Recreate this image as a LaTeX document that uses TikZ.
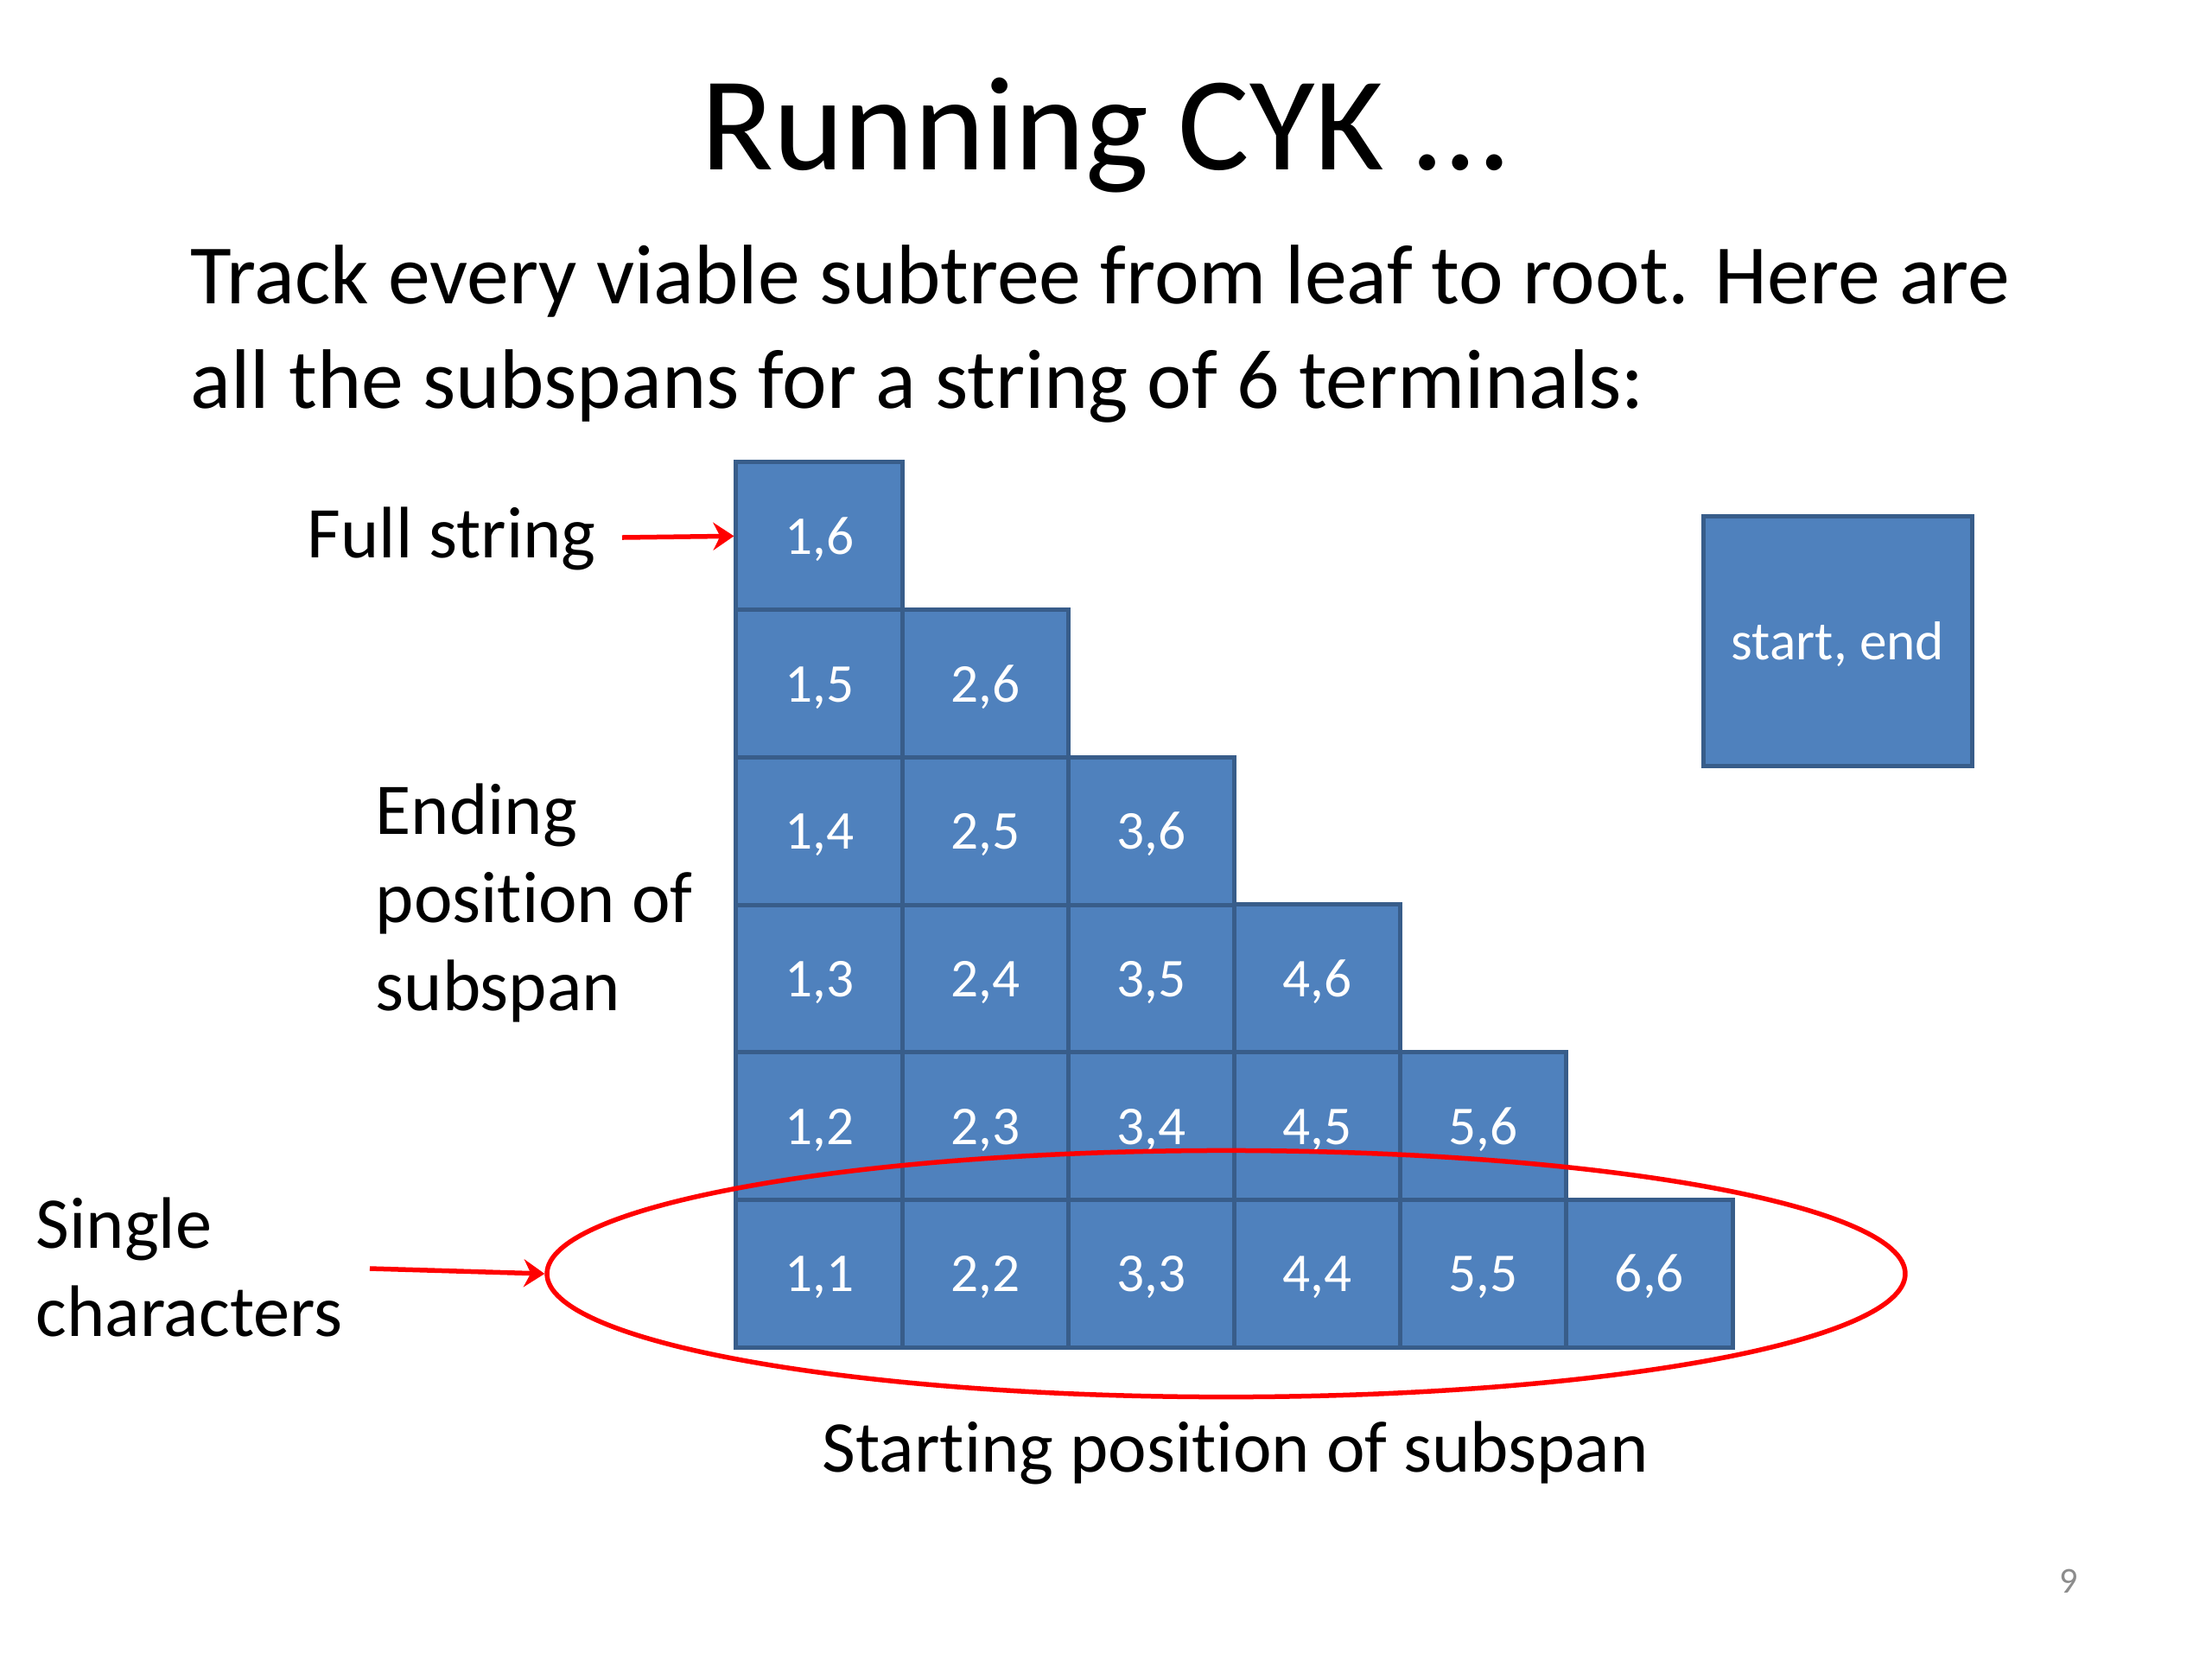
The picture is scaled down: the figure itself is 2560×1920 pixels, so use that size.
\documentclass[tikz,border=0pt]{standalone}
\usepackage{fontspec}
\setmainfont{Carlito}[Ligatures=NoCommon]
\usetikzlibrary{shapes.geometric,arrows.meta}
\definecolor{cellfill}{HTML}{4F81BD}
\definecolor{celldraw}{HTML}{385D8A}
\definecolor{pgnum}{HTML}{8C8C8C}
\tikzset{
  cell/.style={rectangle, fill=cellfill, draw=celldraw, line width=0.05cm,
    minimum width=1.922cm, minimum height=1.707cm, inner sep=0pt,
    text height=12pt, text depth=0pt,
    text=white, font=\fontsize{18}{22}\selectfont},
  lbl/.style={inner sep=0pt, font=\fontsize{24}{29}\selectfont, align=left},
  redarrow/.style={draw=red, line width=0.055cm,
    -{Stealth[length=0.24cm, width=0.32cm, inset=0.08cm]}},
}
\begin{document}
\begin{tikzpicture}[x=0.01cm, y=-0.01cm]
\useasboundingbox (0,0) rectangle (2560,1920);
% title
\node[inner sep=0pt, anchor=base, font=\fontsize{44}{53}\selectfont] (title) at (1278,196) {Running CYK …};
\node[inner sep=0pt, anchor=base west, align=left, font=\fontsize{27.8}{34.2}\selectfont] (sub) at (220,472)
  {Track every viable subtree from leaf to root. Here are\\all the subspans for a string of 6 terminals:};
% grid
\foreach \s in {1,...,6}{
  \foreach \e in {\s,...,6}{
    \pgfmathsetmacro{\cx}{852+192.17*(\s-0.5)}
    \pgfmathsetmacro{\cy}{535+170.67*(5-(\e-\s)+0.5)}
    \node[cell] (c\s\e) at (\cx,\cy) {\s,\e};
  }
}
% legend box
\node[cell, minimum width=3.1cm, minimum height=2.89cm] (legend) at (2127,742) {start, end};
% labels
\node[lbl, anchor=base west] (full) at (355,645) {Full string};
\node[lbl, anchor=base west] (ending) at (434,1169) {Ending\\position of\\subspan};
\node[lbl, anchor=base west] (single) at (41,1546) {Single\\characters};
\node[lbl, anchor=base] (starting) at (1430,1703) {Starting position of subspan};
\node[inner sep=0pt, anchor=base, text=pgnum, font=\fontsize{12}{14}\selectfont] (pg) at (2394,1843) {9};
% ellipse
\node[ellipse, draw=red, line width=0.055cm, minimum width=15.71cm, minimum height=2.85cm, inner sep=0pt] (ell) at (1419,1474) {};
% arrows
\coordinate (fsstart) at (720,622);
\coordinate (scstart) at (428,1468);
\draw[redarrow] (fsstart) -- (c16.west);
\draw[redarrow] (scstart) -- (ell.west);
\end{tikzpicture}
\end{document}
